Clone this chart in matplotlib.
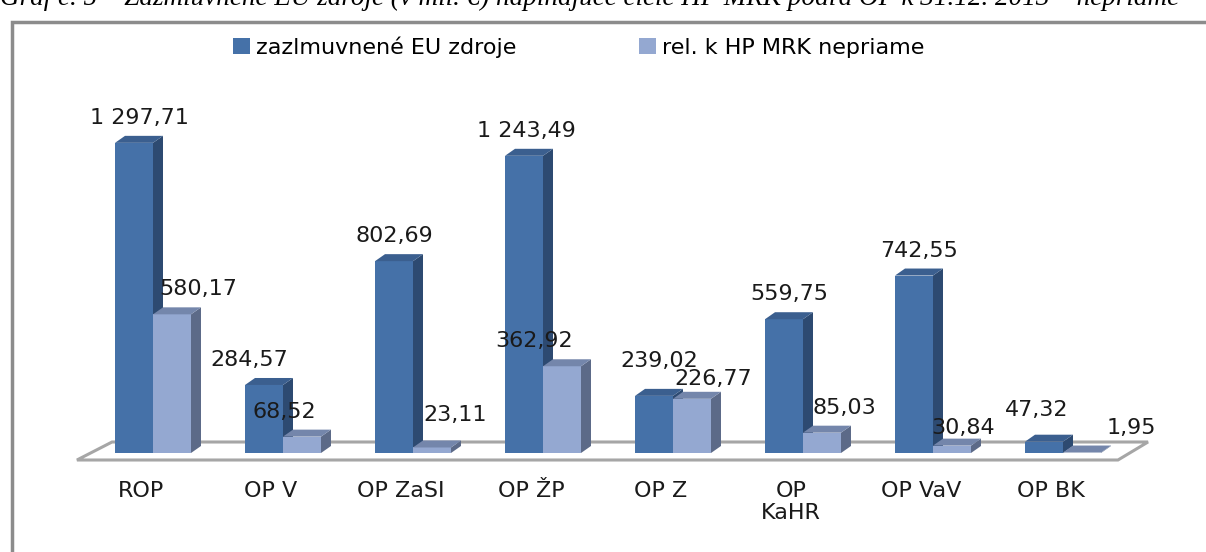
import matplotlib.pyplot as plt
from matplotlib.patches import Patch, Rectangle, Polygon

# data
categories = ["ROP", "OP V", "OP ZaSI", "OP ŽP", "OP Z", "OP\nKaHR", "OP VaV", "OP BK"]
eu_zdroje = [1297.71, 284.57, 802.69, 1243.49, 239.02, 559.75, 742.55, 47.32]
hp_mrk = [580.17, 68.52, 23.11, 362.92, 226.77, 85.03, 30.84, 1.95]
series_names = ["zazlmuvnené EU zdroje", "rel. k HP MRK nepriame"]

# label nudges in pixels (x, up) - Excel moves some labels to avoid overlaps
eu_nudge = [(0, 0), (-20, 0), (-5, 0), (-3, 0), (0, 10), (0, 0), (0, 0), (-12, 7)]
hp_nudge = [(21, 0), (-23, 0), (18, 7), (-33, 0), (16, -5), (17, 0), (6, -7), (44, 0)]

def fmt(v):
    s = f"{v:,.2f}"
    return s.replace(",", " ").replace(".", ",")

plt.rcParams["font.family"] = ["DejaVu Sans"]

fig = plt.figure(figsize=(12.06, 5.52), dpi=100)
ax = fig.add_axes([0, 0, 1, 1])
ax.axis("off")

# pixel-based scales
px_x = 130.0          # pixels per category
px_y = 0.239          # pixels per unit of value
ax.set_xlim(-153 / px_x, (1206 - 153) / px_x)
ax.set_ylim(-99 / px_y, (552 - 99) / px_y)

w = 38 / px_x
dx = 10 / px_x
dy = 7 / px_y

# floor
n = len(categories)
floor = Polygon([(-0.585, -7 / px_y), (n - 1 + 0.423, -7 / px_y),
                 (n - 1 + 0.654, 11 / px_y), (-0.315, 11 / px_y)],
                closed=True, facecolor="white", edgecolor="#a6a6a6", lw=2.2, zorder=1)
ax.add_patch(floor)

styles = [
    dict(front="#4571a8", side="#2d4a71", top="#3b5f8f"),
    dict(front="#94a8d1", side="#5c6a88", top="#7486ab"),
]

z = 2
for i in range(n):
    for k, vals in enumerate([eu_zdroje, hp_mrk]):
        v = vals[i]
        st = styles[k]
        x0 = i - w + k * w
        x1 = x0 + w
        ax.bar(x0, v, w, align="edge", color=st["front"], zorder=z)
        ax.add_patch(Polygon([(x1, 0), (x1 + dx, dy), (x1 + dx, v + dy), (x1, v)],
                             facecolor=st["side"], edgecolor="none", zorder=z))
        ax.add_patch(Polygon([(x0, v), (x1, v), (x1 + dx, v + dy), (x0 + dx, v + dy)],
                             facecolor=st["top"], edgecolor="none", zorder=z))
        z += 1

# value labels
for i in range(n):
    for k, (vals, nudge) in enumerate([(eu_zdroje, eu_nudge), (hp_mrk, hp_nudge)]):
        v = vals[i]
        xc = i - w / 2 + k * w + dx / 2
        ox, oy = nudge[i]
        ax.annotate(fmt(v), (xc, v), xytext=(ox * 0.72, 18 + oy * 0.72),
                    textcoords="offset points", ha="center", va="center",
                    fontsize=16, color="#1a1a1a", zorder=50)

# category labels
for i, c in enumerate(categories):
    ax.text(i - 12 / px_x, -(481 - 453) / px_y, c, ha="center", va="top",
            fontsize=16, color="#1a1a1a", linespacing=1.1)

# legend
handles = [Patch(facecolor=styles[0]["front"]), Patch(facecolor=styles[1]["front"])]
fig.legend(handles, series_names, loc="center", bbox_to_anchor=(0.48, 0.915), ncol=2,
           frameon=False, fontsize=16, handlelength=0.75, handleheight=0.75,
           handletextpad=0.3, columnspacing=5.5)

# border
fig.add_artist(Rectangle((12 / 1206, -0.1), 1.2, 1.1 - 22 / 552, transform=fig.transFigure,
                         fill=False, edgecolor="#8c8c8c", lw=2.5))

# cut caption at the top
fig.text(0.0, 1.007, "Graf č. 5 – Zazmluvnené EÚ zdroje (v mil. €) napĺňajúce ciele HP MRK podľa OP k 31.12. 2013 – nepriame",
         ha="left", va="center", fontsize=19.5, style="italic", family="Liberation Serif")

fig.savefig("out.png", dpi=100)
